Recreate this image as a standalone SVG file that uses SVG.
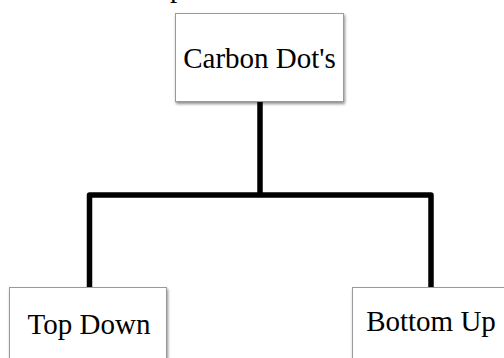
<svg xmlns="http://www.w3.org/2000/svg" width="504" height="358" viewBox="0 0 504 358">
  <style>
    .box { fill: #ffffff; stroke: #9a9a9a; stroke-width: 1; filter: url(#shadow); }
    .label { font-family: "Liberation Serif", "Times New Roman", serif; font-size: 29px; fill: #000000; }
    .wire { fill: none; stroke: #000000; stroke-width: 5.5; stroke-linejoin: round; stroke-linecap: butt; }
  </style>
  <defs>
    <filter id="shadow" x="-10%" y="-10%" width="125%" height="130%">
      <feGaussianBlur in="SourceAlpha" stdDeviation="1.5"/>
      <feOffset dx="1" dy="2" result="off"/>
      <feComponentTransfer><feFuncA type="linear" slope="0.45"/></feComponentTransfer>
      <feMerge><feMergeNode/><feMergeNode in="SourceGraphic"/></feMerge>
    </filter>
  </defs>
  <rect width="504" height="358" fill="#ffffff"/>

  <!-- tail of the line above, cut off at the top edge -->
  <text class="label" x="170" y="-3">p</text>

  <g id="connectors">
    <path class="wire" d="M260 102 V195"/>
    <path class="wire" d="M89.5 287 V195 H431 V287"/>
  </g>

  <g id="carbon-dots">
    <rect class="box" x="175.5" y="13.5" width="168" height="88"/>
    <text class="label" x="259.5" y="67.5" text-anchor="middle">Carbon Dot's</text>
  </g>

  <g id="top-down">
    <rect class="box" x="9.5" y="287.5" width="157" height="80"/>
    <text class="label" x="89" y="334" text-anchor="middle">Top Down</text>
  </g>

  <g id="bottom-up">
    <rect class="box" x="352.5" y="287.5" width="160" height="80"/>
    <text class="label" x="431" y="331" text-anchor="middle">Bottom Up</text>
  </g>
</svg>
